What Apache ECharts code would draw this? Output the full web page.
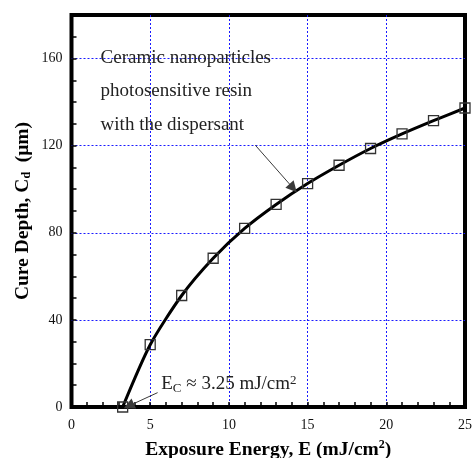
<!DOCTYPE html>
<html>
<head>
<meta charset="utf-8">
<script src="https://cdn.jsdelivr.net/npm/echarts@6/dist/echarts.min.js"></script>
<style>
  html, body { margin: 0; padding: 0; background: #fff; }
  #chart { width: 473px; height: 458px; }
</style>
</head>
<body>
<div id="chart"></div>
<script>
// exposure energy (mJ/cm2) and cure depth (um)
const energy = [3.25, 5, 7, 9, 11, 13, 15, 17, 19, 21, 23, 25];
const cureDepth = [0, 28.6, 51.2, 68.3, 82, 93, 102.6, 111, 118.7, 125.4, 131.5, 137.3];

const xTicks = [0, 5, 10, 15, 20, 25];
const yTicks = [0, 40, 80, 120, 160];

// annotation text + arrows, in data units
const noteLines = ['Ceramic nanoparticles', 'photosensitive resin', 'with the dispersant'];
const noteAnchor = [1.85, 160.4];
const noteStep = 15.5;
const noteArrow = [[11.68, 120.2], [14.08, 100.5]];
const ecArrow = [[5.47, 6.6], [3.64, 0.5]];
const ecAnchor = [5.7, 5.6];

const SERIF = '"Liberation Serif", "Times New Roman", serif';
const BLUE = '#1a1aff';

const chart = echarts.init(document.getElementById('chart'));

const gridLine = { show: true, showMinLine: false, showMaxLine: false, lineStyle: { color: BLUE, width: 1, type: [2, 2] } };
const minorTicks = { show: true, inside: true, length: 5, lineStyle: { color: '#000', width: 1.5 } };

const option = {
  backgroundColor: '#fff',
  animation: false,
  grid: {
    left: 71.5, right: 8, top: 15, bottom: 51,
    outerBoundsMode: 'none', containLabel: false,
    show: true, borderColor: '#000', borderWidth: 4, backgroundColor: 'transparent'
  },
  xAxis: [
    {
      type: 'value', min: 0, max: 25, interval: 5,
      axisLine: { show: false },
      axisTick: { show: false },
      axisLabel: { color: '#111', fontFamily: SERIF, fontSize: 14, margin: 11 },
      splitLine: gridLine,
      name: '{b|Exposure Energy, E (mJ/cm}{s|2}{b|)}',
      nameLocation: 'middle', nameGap: 32,
      nameTextStyle: {
        rich: {
          b: { fontFamily: SERIF, fontWeight: 'bold', fontSize: 19.5, color: '#000' },
          s: { fontFamily: SERIF, fontWeight: 'bold', fontSize: 12, color: '#000', verticalAlign: 'top', padding: [0, 0, 9, 0] }
        }
      }
    },
    {
      type: 'value', min: 0, max: 25, interval: 1, position: 'bottom',
      axisLine: { show: false },
      axisTick: minorTicks,
      axisLabel: { show: false },
      splitLine: { show: false }
    }
  ],
  yAxis: [
    {
      type: 'value', min: 0, max: 180, interval: 40,
      axisLine: { show: false },
      axisTick: { show: false },
      axisLabel: { color: '#111', fontFamily: SERIF, fontSize: 14, margin: 9, showMaxLabel: false },
      splitLine: gridLine
    },
    {
      type: 'value', min: 0, max: 180, interval: 10, position: 'left',
      axisLine: { show: false },
      axisTick: minorTicks,
      axisLabel: { show: false },
      splitLine: { show: false }
    }
  ],
  series: [
    {
      type: 'line',
      data: energy.map((e, i) => [e, cureDepth[i]]),
      smooth: 0.25,
      symbol: 'rect', symbolSize: 10,
      itemStyle: { color: 'rgba(255,255,255,0)', borderColor: '#333', borderWidth: 1.3 },
      lineStyle: { color: '#000', width: 3 },
      markLine: {
        silent: true, animation: false,
        symbol: ['none', 'triangle'], symbolSize: 11,
        label: { show: false },
        itemStyle: { color: '#3a3a3a' },
        lineStyle: { color: '#3a3a3a', width: 1, type: 'solid' },
        emphasis: { disabled: true },
        data: [
          [{ coord: noteArrow[0] }, { coord: noteArrow[1] }],
          [{ coord: ecArrow[0] }, { coord: ecArrow[1] }]
        ]
      }
    }
  ]
};

chart.setOption(option);

const px = (p) => chart.convertToPixel({ xAxisIndex: 0, yAxisIndex: 0 }, p);
const graphics = noteLines.map((t, i) => {
  const p = px([noteAnchor[0], noteAnchor[1] - i * noteStep]);
  return {
    type: 'text', x: p[0], y: p[1], z: 10,
    style: { text: t, fontFamily: SERIF, fontSize: 19, fill: '#222', verticalAlign: 'middle' }
  };
});
const ec = px(ecAnchor);
graphics.push({
  type: 'text', x: ec[0], y: ec[1], z: 10,
  style: {
    text: '{n|E}{s|C}{n| \u2248 3.25 mJ/cm}{p|2}',
    verticalAlign: 'bottom',
    rich: {
      n: { fontFamily: SERIF, fontSize: 19, fill: '#222' },
      s: { fontFamily: SERIF, fontSize: 13, fill: '#222', verticalAlign: 'bottom', padding: [7, 0, 0, 0] },
      p: { fontFamily: SERIF, fontSize: 13, fill: '#222', verticalAlign: 'top', padding: [0, 0, 8, 0] }
    }
  }
});
// y axis title
graphics.push({
  type: 'text', x: 23, y: 211, rotation: Math.PI / 2, z: 10,
  style: {
    text: '{b|Cure Depth, C}{s|d}{b|  (\u03bcm)}',
    align: 'center', verticalAlign: 'middle',
    rich: {
      b: { fontFamily: SERIF, fontWeight: 'bold', fontSize: 19.5, fill: '#000' },
      s: { fontFamily: SERIF, fontWeight: 'bold', fontSize: 12, fill: '#000', padding: [8, 0, 0, 0] }
    }
  }
});
chart.setOption({ graphic: graphics });
</script>
</body>
</html>
